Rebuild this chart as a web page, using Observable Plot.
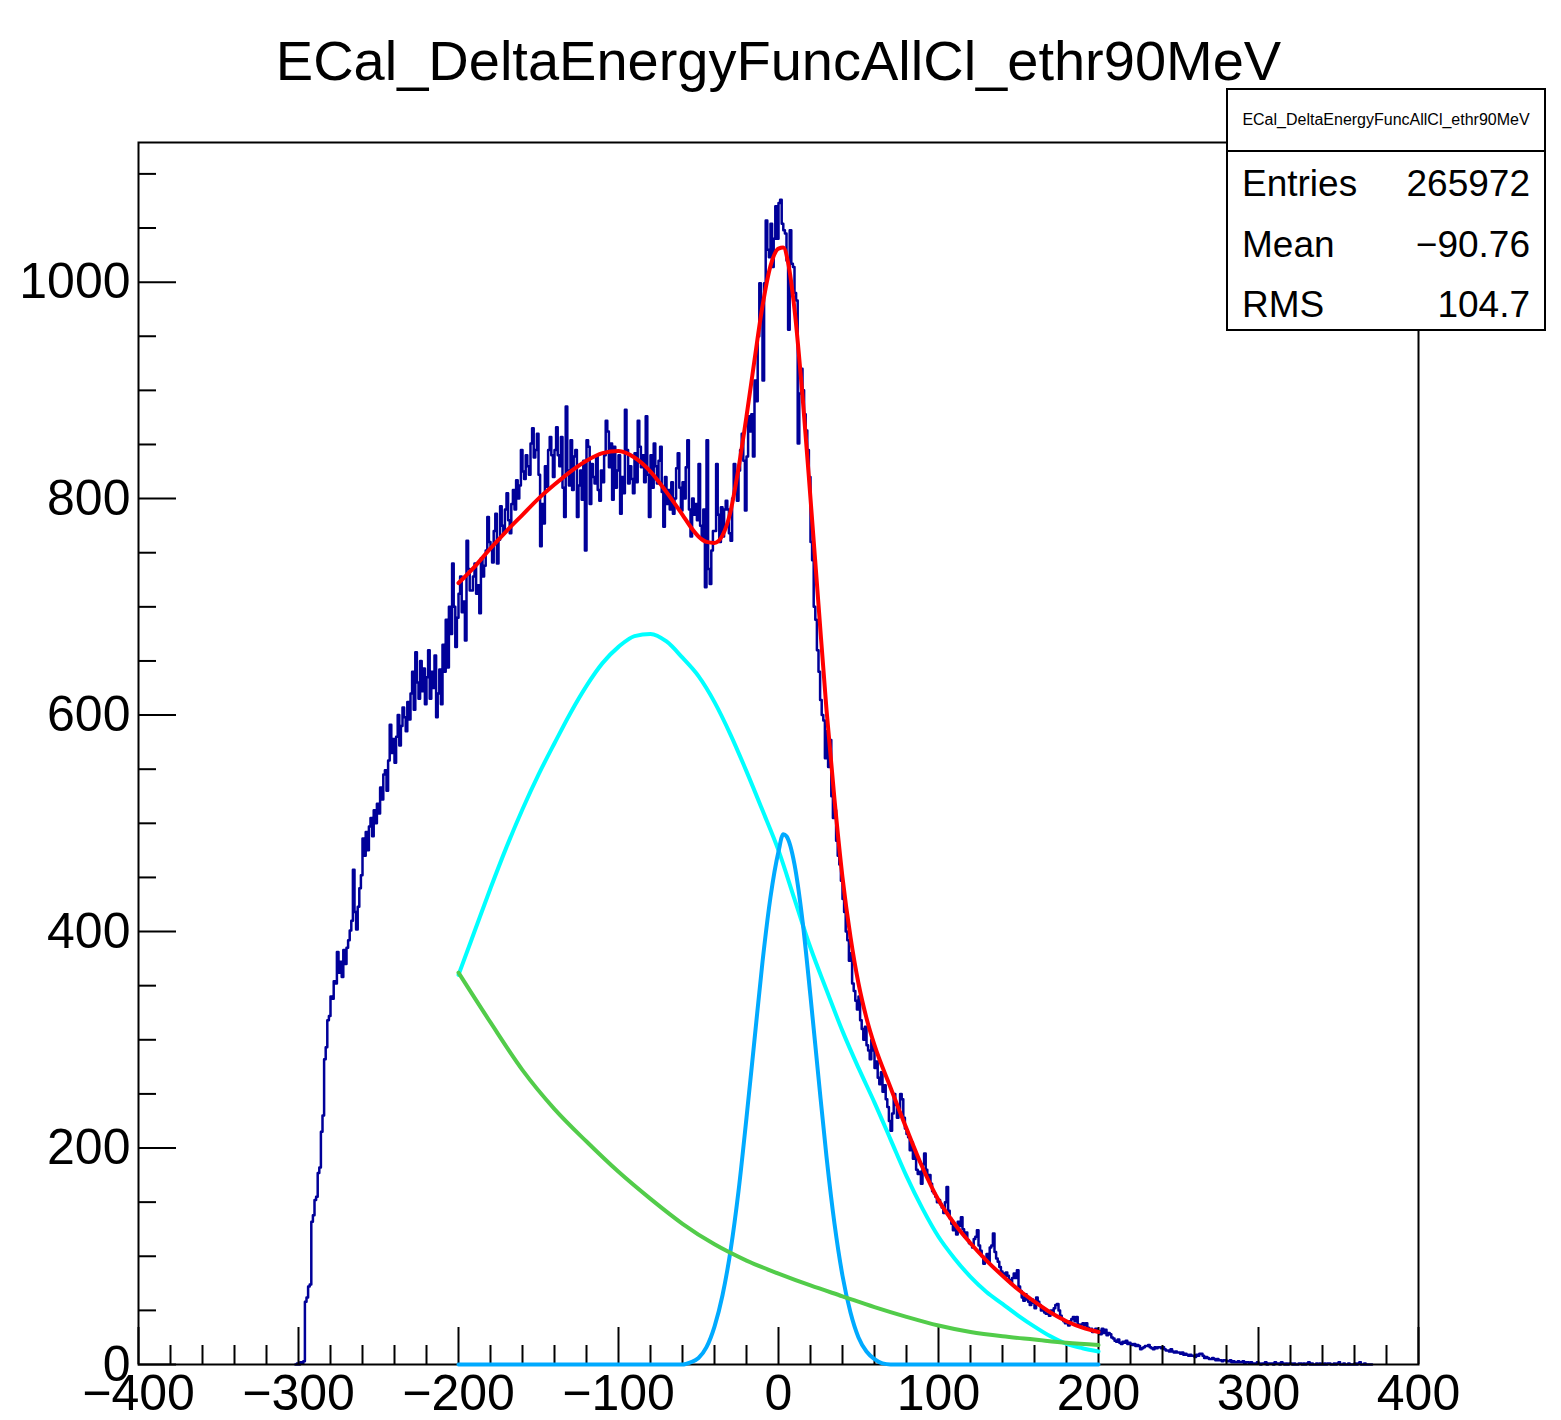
<!DOCTYPE html>
<html><head><meta charset="utf-8">
<script src="https://cdn.jsdelivr.net/npm/d3@7"></script>
<script src="https://cdn.jsdelivr.net/npm/@observablehq/plot@0.6"></script>
<style>
body{margin:0;background:#fff;}
#wrap{position:relative;width:1561px;height:1420px;font-family:"Liberation Sans",Arial,Helvetica,sans-serif;}
#wrap svg{position:absolute;left:0;top:0;}
#stats{position:absolute;left:1226px;top:88px;width:316px;height:239px;border:2px solid #000;background:#fff;color:#000;}
#stats .hd{position:absolute;left:0;top:0;width:316px;height:60px;border-bottom:2px solid #000;font-size:16px;line-height:60px;text-align:center;white-space:nowrap;}
#stats .row{position:absolute;left:14px;width:290px;height:44px;font-size:37px;line-height:44px;}
#stats .row span.k{position:absolute;left:0;}
#stats .row span.v{position:absolute;right:2px;}
</style></head>
<body>
<div id="wrap"><div id="stats"></div></div>
<script>
const chartTitle = "ECal_DeltaEnergyFuncAllCl_ethr90MeV";
const statNames = ["Entries", "Mean", "RMS"];
const statValues = ["265972", "\u221290.76", "104.7"];

// histogram: 1-unit bins, first lower edge
const firstBinEdge = -302;
const binsA = [ // -302 .. -203
0,1,0,2,1,3,58,62,72,74,
132,138,152,155,177,182,215,230,282,293,
318,322,340,338,354,352,381,362,372,358,
383,370,385,392,401,410,457,418,402,423,
440,452,486,470,492,475,497,505,488,512,
500,518,509,533,522,545,549,530,558,591,
565,578,556,580,600,572,590,607,598,585,
612,596,620,640,605,658,630,615,650,622,
643,610,635,660,615,640,625,655,598,620,
642,610,665,640,688,644,700,675,740,700];
const binsB = [ // -202 .. -103
663,690,712,728,695,705,669,761,735,715,
715,728,740,712,720,694,745,728,738,752,
783,760,756,741,770,786,740,762,793,775,
768,790,805,780,768,795,808,790,817,800,
812,845,825,818,840,830,822,851,865,838,
845,860,822,756,795,777,830,811,845,857,
840,820,845,866,840,830,857,810,783,885,
826,812,854,808,839,845,783,812,826,799,
835,752,854,848,795,832,820,814,840,808,
798,826,815,840,872,862,829,851,799,848];
const binsC = [ // -102 .. -3
810,826,840,786,820,805,882,845,814,830,
818,805,842,815,872,848,829,840,815,876,
822,783,840,810,851,830,814,835,848,806,
774,820,795,808,790,815,786,800,828,842,
810,789,815,800,829,854,790,765,800,785,
795,780,832,775,762,790,718,854,735,721,
752,770,770,832,785,760,792,765,790,798,
790,768,761,800,832,815,798,826,845,860,
835,789,839,876,862,878,839,909,890,950,
999,971,909,999,1057,1030,1023,1054,1014,1040];
const binsD = [ // -2 .. 97
1070,1040,1073,1076,1054,1048,1045,1020,956,1048,
1017,1014,990,983,851,897,920,900,878,863,
845,820,760,743,700,688,660,640,614,600,
595,560,585,552,577,525,505,512,484,470,
462,447,430,418,400,392,373,380,352,345,
336,328,340,318,310,300,312,295,290,282,
300,290,274,280,265,259,270,252,258,245,
238,225,216,232,250,240,228,236,250,245,
228,218,213,210,198,205,190,195,180,176,
178,167,185,195,180,172,175,167,160,158];
const binsE = [ // 98 .. 197
155,150,152,148,145,140,150,164,142,135,
130,124,128,120,132,128,136,125,118,122,
115,112,111,108,116,118,124,110,105,100,
93,98,102,95,108,110,121,104,98,95,
90,86,84,81,85,82,78,75,80,84,
80,87,72,68,62,59,65,60,58,55,
60,57,52,62,58,55,50,52,48,47,
47,45,50,48,52,55,56,50,45,42,
40,38,38,36,40,42,44,40,44,37,
35,37,38,36,38,34,32,33,30,31];
const binsF = [ // 198 .. 297
33,31,31,28,33,29,32,27,29,28,
25,24,22,21,23,20,19,21,20,22,
19,20,19,18,19,17,18,17,14,15,
16,17,17,18,16,15,14,16,15,16,
16,15,16,14,13,13,12,14,12,11,
12,11,11,10,11,9,10,9,8,9,
8,8,7,9,8,10,10,8,6,7,
6,5,5,6,5,4,5,4,4,3,
4,4,3,3,4,2,3,2,2,3,
2,2,3,1,2,2,1,2,1,1];
const binsG = [ // 298 .. 370
1,2,1,0,1,1,2,0,1,1,
1,0,2,1,1,0,2,1,0,1,
0,1,1,0,1,0,0,1,1,0,
1,0,1,2,0,1,0,0,1,0,
1,0,0,1,0,1,1,0,0,1,
0,1,2,0,0,1,0,0,1,0,
0,0,1,0,1,2,0,0,1,0,
0,0,0];

// fit (red) and its components
const fitX = [-200,-190,-180,-170,-160,-150,-140,-130,-120,-110,-100,-90,-80,-70,-60,-55,-50,-45,-40,-35,-30,-25,-20,-15,-10,-5,0,3,6,10,15,20,25,30,35,40,45,50,55,60,70,80,90,100,110,120,130,140,150,160,170,180,190,200];
const fitY = [722,737,754,770,785,800,813,825,835,842,844,838,825,806,785,774,765,760,759,766,788,828,876,928,978,1015,1031,1032,1018,975,895,800,702,605,522,450,395,352,320,295,256,218,182,152,130,112,96,82,69,58,48,40,34,30];
const broadX = [-200,-190,-180,-170,-160,-150,-140,-130,-120,-110,-100,-90,-80,-70,-60,-50,-40,-30,-20,-10,0,10,20,30,40,50,60,70,80,90,100,110,120,130,140,150,160,170,180,190,200];
const broadY = [360,400,440,478,513,545,574,602,627,648,663,673,675,668,653,636,612,582,548,512,475,430,385,346,308,274,242,208,174,144,118,98,81,67,56,45,35,26,19,15,12];
const peakX = [-200,-60,-55,-50,-45,-40,-35,-30,-25,-20,-15,-10,-5,0,3,5,10,15,20,25,30,35,40,45,50,55,60,65,70,200];
const peakY = [0,0,2,6,16,35,64,105,160,228,300,372,432,474,490,488,462,410,340,265,192,130,82,48,25,12,5,1,0,0];
const tailX = [-200,-180,-160,-140,-120,-100,-80,-60,-40,-20,0,20,40,60,80,100,120,140,160,180,200];
const tailY = [362,316,272,236,206,178,153,130,111,96,84,73,63,53,44,36,30,26,23,20,18];

const xLabelTicks = [-400,-300,-200,-100,0,100,200,300,400];
const yLabelTicks = [0,200,400,600,800,1000];
const xMinorTicks = d3.range(-400, 401, 20).filter(v => v % 100 !== 0);
const yMinorTicks = d3.range(50, 1129, 50).filter(v => v % 200 !== 0);

const counts = [].concat(binsA, binsB, binsC, binsD, binsE, binsF, binsG);
const histPts = counts.map((c, i) => ({x: firstBinEdge + i, y: c}));
histPts.push({x: firstBinEdge + counts.length, y: counts[counts.length - 1]});
const zipXY = (xs, ys) => xs.map((x, i) => ({x, y: ys[i]}));

const W = 1561, H = 1420, mL = 138, mR = 143, mT = 142, mB = 56;
const plotW = W - mL - mR, plotH = H - mT - mB;
const fmt = d => d < 0 ? "\u2212" + Math.abs(d) : String(d);
const font = "'Liberation Sans', Arial, Helvetica, sans-serif";

const chart = Plot.plot({
  width: W, height: H,
  marginLeft: mL, marginRight: mR, marginTop: mT, marginBottom: mB,
  x: {domain: [-400, 400]},
  y: {domain: [0, 1129]},
  style: {fontFamily: font, background: "white", overflow: "visible", color: "black"},
  marks: [
    Plot.line(histPts, {x: "x", y: "y", curve: "step-after", stroke: "#000099", strokeWidth: 2.5}),
    Plot.frame({stroke: "black", strokeWidth: 2}),
    Plot.tickX(xLabelTicks, {x: d => d, insetTop: plotH - 37, stroke: "black", strokeWidth: 2}),
    Plot.tickX(xMinorTicks, {x: d => d, insetTop: plotH - 19, stroke: "black", strokeWidth: 2}),
    Plot.tickY(yLabelTicks, {y: d => d, insetRight: plotW - 38, stroke: "black", strokeWidth: 2}),
    Plot.tickY(yMinorTicks, {y: d => d, insetRight: plotW - 18, stroke: "black", strokeWidth: 2}),
    Plot.axisX({ticks: xLabelTicks, tickSize: 0, tickPadding: 10, fontSize: 50, tickFormat: fmt, label: null}),
    Plot.axisY({ticks: yLabelTicks, tickSize: 0, tickPadding: 8, fontSize: 50, tickFormat: fmt, label: null}),
    Plot.line(zipXY(fitX, fitY), {x: "x", y: "y", curve: "monotone-x", stroke: "#ff0000", strokeWidth: 4}),
    Plot.line(zipXY(broadX, broadY), {x: "x", y: "y", curve: "monotone-x", stroke: "#00ffff", strokeWidth: 4}),
    Plot.line(zipXY(peakX, peakY), {x: "x", y: "y", curve: "monotone-x", stroke: "#00aaff", strokeWidth: 4}),
    Plot.line(zipXY(tailX, tailY), {x: "x", y: "y", curve: "monotone-x", stroke: "#52cc4a", strokeWidth: 4}),
    Plot.text([chartTitle], {text: d => d, frameAnchor: "top", dy: -102, fontSize: 56, fill: "black"})
  ]
});
document.getElementById("wrap").prepend(chart);

const stats = document.getElementById("stats");
const hd = document.createElement("div");
hd.className = "hd"; hd.textContent = chartTitle;
stats.appendChild(hd);
const rowTops = [72, 133, 193];
statNames.forEach((n, i) => {
  const r = document.createElement("div");
  r.className = "row"; r.style.top = rowTops[i] + "px";
  r.innerHTML = `<span class="k">${n}</span><span class="v">${statValues[i]}</span>`;
  stats.appendChild(r);
});
</script>
</body></html>
